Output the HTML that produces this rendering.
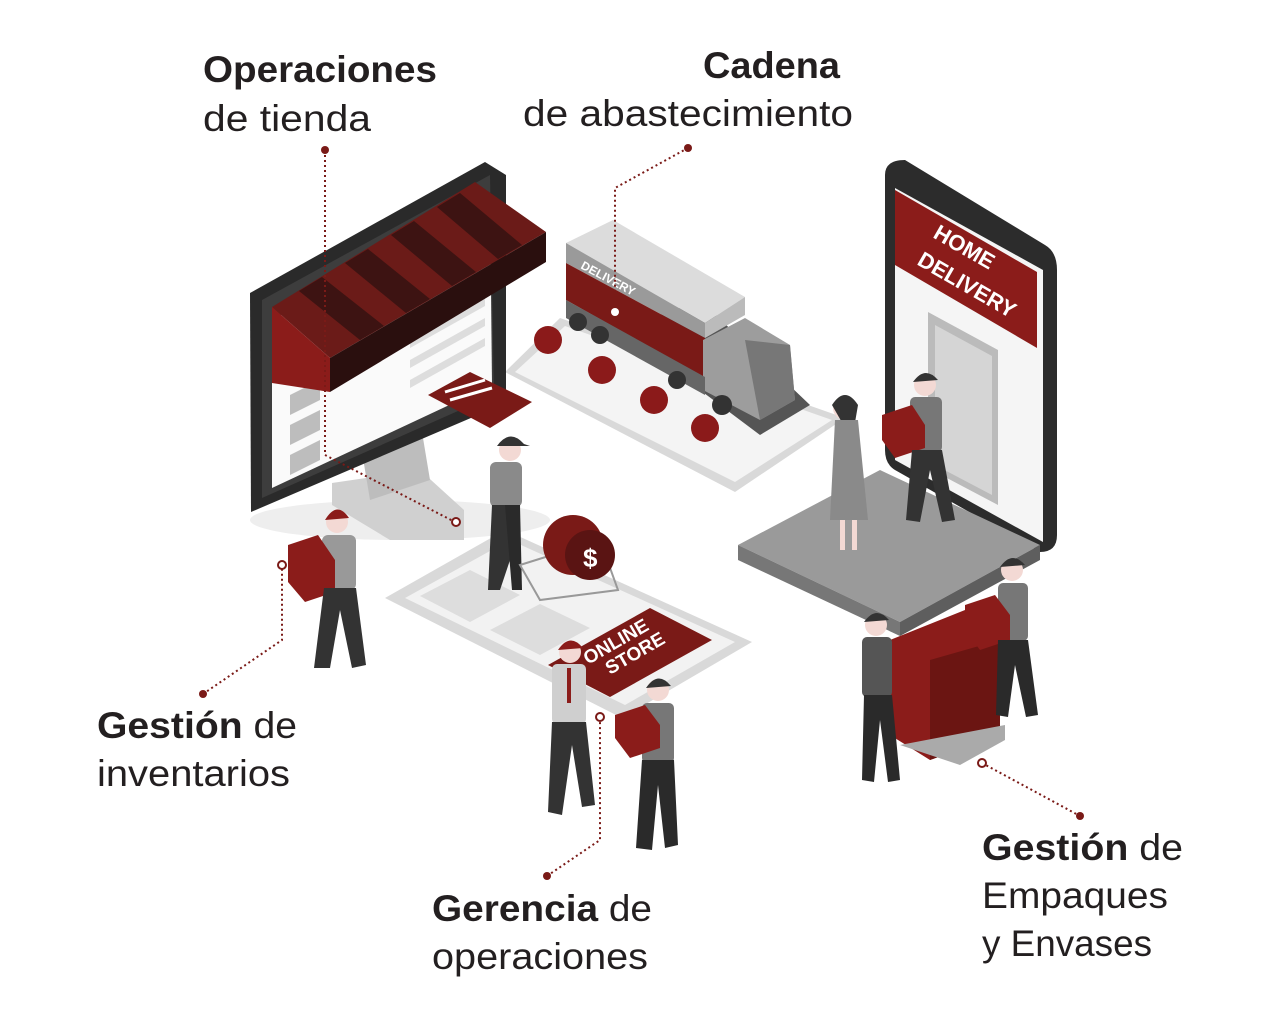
<!DOCTYPE html>
<html><head><meta charset="utf-8"><style>
html,body{margin:0;padding:0;background:#fff;}
svg{display:block;}
text{font-family:"Liberation Sans",sans-serif;fill:#231f20;}
</style></head><body>
<svg width="1280" height="1024" viewBox="0 0 1280 1024" xmlns="http://www.w3.org/2000/svg">
<ellipse cx="400" cy="520" rx="150" ry="20" fill="#eee"/>
<!-- Truck tablet -->
<polygon points="505,372 560,318 845,418 735,492" fill="#d9d9d9"/>
<polygon points="515,372 565,326 832,420 735,482" fill="#f4f4f4"/>
<polygon points="620,330 700,300 810,405 760,435" fill="#555"/>
<g fill="#8b1a1a"><circle cx="548" cy="340" r="14"/><circle cx="602" cy="370" r="14"/><circle cx="654" cy="400" r="14"/><circle cx="705" cy="428" r="14"/></g>
<!-- Truck -->
<polygon points="566,243 613,220 745,297 705,323" fill="#dcdcdc"/>
<polygon points="566,243 705,323 705,338 566,263" fill="#9a9a9a"/>
<polygon points="566,263 705,338 703,377 566,300" fill="#7a1a17"/>
<polygon points="705,323 745,297 745,315 705,338" fill="#bbb"/>
<polygon points="703,340 745,318 790,345 795,400 760,420 703,390" fill="#9d9d9d"/>
<polygon points="745,340 790,345 795,400 760,420" fill="#777"/>
<polygon points="566,300 705,377 705,395 566,318" fill="#666"/>
<g fill="#333"><circle cx="578" cy="322" r="9"/><circle cx="600" cy="335" r="9"/><circle cx="677" cy="380" r="9"/><circle cx="722" cy="405" r="10"/></g>
<text x="580" y="268" font-size="12" font-weight="bold" style="fill:#fff" transform="rotate(28 580 268)">DELIVERY</text>
<!-- Monitor -->
<polygon points="332,483 420,470 464,510 464,540 390,540 332,505" fill="#d0d0d0"/>
<polygon points="360,440 420,420 430,480 370,500" fill="#bdbdbd"/>
<polygon points="250,293 485,162 506,175 506,403 251,512" fill="#2a2a2a"/>
<polygon points="262,300 490,175 494,395 262,498" fill="#3d3d3d"/>
<polygon points="272,320 490,198 492,385 272,488" fill="#fafafa"/>
<g fill="#bdbdbd"><polygon points="290,395 320,380 320,400 290,415"/><polygon points="290,425 320,410 320,430 290,445"/><polygon points="290,455 320,440 320,460 290,475"/></g>
<g fill="#ddd"><polygon points="410,340 485,298 485,306 410,348"/><polygon points="410,360 485,318 485,326 410,368"/><polygon points="410,380 485,338 485,346 410,388"/></g>
<polygon points="428,395 470,372 532,402 490,428" fill="#7a1a17"/>
<g stroke="#fff" stroke-width="3"><line x1="445" y1="392" x2="485" y2="380"/><line x1="450" y1="400" x2="492" y2="388"/></g>
<!-- Awning -->
<polygon points="272,307 475,182 546,232 330,358" fill="#6b1b18"/>
<g fill="#3d1312">
<polygon points="299,291 322,277 384,326 360,340"/><polygon points="345,263 368,249 430,299 406,313"/><polygon points="391,235 414,221 476,272 452,286"/><polygon points="437,207 460,193 522,245 498,259"/>
</g>
<polygon points="330,358 546,232 546,262 330,392" fill="#2a0f0e"/>
<polygon points="272,307 330,358 330,392 272,383" fill="#8b1c1a"/>
<!-- Phone -->
<path d="M885,175 Q885,160 905,160 L1045,245 Q1057,252 1057,270 L1057,535 Q1057,552 1040,552 L895,470 Q885,464 885,450 Z" fill="#2c2c2c"/>
<polygon points="895,188 1043,270 1043,542 895,460" fill="#f5f5f5"/>
<polygon points="895,190 1037,272 1037,348 895,265" fill="#8b1c1a"/>
<text x="932" y="237" font-size="22" font-weight="bold" style="fill:#fff" transform="rotate(30 932 237)">HOME</text>
<text x="916" y="264" font-size="22" font-weight="bold" style="fill:#fff" transform="rotate(30 916 264)">DELIVERY</text>
<polygon points="928,312 998,350 998,505 928,468" fill="#bbb"/>
<polygon points="935,325 992,356 992,495 935,465" fill="#d5d5d5"/>
<!-- Platform -->
<polygon points="738,545 880,470 1040,545 900,622" fill="#9a9a9a"/>
<polygon points="738,545 900,622 900,636 738,560" fill="#777"/>
<polygon points="900,622 1040,545 1040,560 900,636" fill="#5e5e5e"/>
<!-- Bottom tablet -->
<polygon points="385,598 505,530 752,642 622,718" fill="#d9d9d9"/>
<polygon points="405,598 510,540 735,642 625,705" fill="#f2f2f2"/>
<g fill="#ddd"><polygon points="420,596 470,570 520,595 470,622"/><polygon points="490,630 540,604 590,628 540,655"/></g>
<polygon points="548,665 650,608 712,640 610,697" fill="#7a1a17"/>
<text x="588" y="665" font-size="19" font-weight="bold" style="fill:#fff" transform="rotate(-30 588 665)">ONLINE</text>
<text x="610" y="675" font-size="19" font-weight="bold" style="fill:#fff" transform="rotate(-30 610 675)">STORE</text>
<!-- Cart person -->
<g>
<circle cx="510" cy="450" r="11" fill="#f3d9d4"/><path d="M497,446 Q510,428 524,444 L530,446 Z" fill="#333"/>
<rect x="490" y="462" width="32" height="45" rx="6" fill="#8a8a8a"/>
<polygon points="492,505 520,505 510,560 500,590 488,590" fill="#333"/>
<polygon points="505,505 520,505 522,590 512,590" fill="#2a2a2a"/>
<path d="M520,565 L600,540 L618,590 L540,600 Z" fill="none" stroke="#999" stroke-width="2"/>
<circle cx="573" cy="545" r="30" fill="#7a1a17"/><circle cx="590" cy="555" r="25" fill="#5a1413"/>
<text x="583" y="567" font-size="26" font-weight="bold" style="fill:#fff">$</text>
</g>
<!-- Inventory person -->
<g>
<circle cx="337" cy="522" r="11" fill="#f3d9d4"/><path d="M325,520 Q337,500 349,518 Z" fill="#8b1c1a"/>
<rect x="322" y="535" width="34" height="55" rx="6" fill="#999"/>
<polygon points="288,545 318,535 335,560 335,592 305,602 288,582" fill="#8b1c1a"/>
<polygon points="324,588 356,588 366,665 352,668 340,610 330,668 314,668" fill="#333"/>
</g>
<!-- Woman & courier -->
<g>
<circle cx="845" cy="408" r="12" fill="#f3d9d4"/><path d="M832,405 Q845,385 858,405 L852,440 Z" fill="#333"/>
<polygon points="835,420 858,420 868,520 830,520" fill="#8a8a8a"/>
<rect x="840" y="520" width="5" height="30" fill="#f3d9d4"/><rect x="852" y="520" width="5" height="30" fill="#f3d9d4"/>
<circle cx="925" cy="385" r="11" fill="#f3d9d4"/><path d="M913,382 Q925,365 938,380 Z" fill="#333"/>
<rect x="910" y="397" width="32" height="55" rx="5" fill="#777"/>
<polygon points="882,415 912,405 925,425 925,448 895,458 882,440" fill="#8b1c1a"/>
<polygon points="912,450 942,450 955,520 942,522 930,470 920,522 906,520" fill="#333"/>
</g>
<!-- Packaging people -->
<g>
<polygon points="890,640 965,610 1000,640 1000,735 930,760 890,735" fill="#8b1c1a"/>
<polygon points="930,660 1000,640 1000,735 930,760" fill="#6b1512"/>
<polygon points="900,745 960,765 1005,740 1005,725" fill="#aaa"/>
<circle cx="876" cy="625" r="11" fill="#f3d9d4"/><path d="M864,622 Q876,605 889,620 Z" fill="#333"/>
<rect x="862" y="637" width="30" height="60" rx="5" fill="#555"/>
<polygon points="864,695 892,695 900,780 888,782 880,720 874,782 862,780" fill="#2a2a2a"/>
<circle cx="1012" cy="570" r="11" fill="#f3d9d4"/><path d="M1000,567 Q1012,550 1025,565 Z" fill="#333"/>
<rect x="998" y="583" width="30" height="58" rx="5" fill="#777"/>
<polygon points="965,605 995,595 1010,615 1010,640 980,650 965,630" fill="#8b1c1a"/>
<polygon points="998,640 1028,640 1038,715 1026,717 1015,665 1008,717 996,715" fill="#2a2a2a"/>
</g>
<!-- Manager people -->
<g>
<circle cx="570" cy="652" r="11" fill="#f3d9d4"/><path d="M558,650 Q570,632 583,648 Z" fill="#8b1c1a"/>
<rect x="552" y="664" width="34" height="60" rx="5" fill="#cfcfcf"/>
<rect x="567" y="668" width="4" height="35" fill="#8b1c1a"/>
<polygon points="552,722 586,722 595,805 582,807 572,745 562,815 548,812" fill="#333"/>
<circle cx="658" cy="690" r="11" fill="#f3d9d4"/><path d="M646,688 Q658,670 671,686 Z" fill="#333"/>
<rect x="642" y="703" width="32" height="60" rx="5" fill="#777"/>
<polygon points="615,715 645,705 660,725 660,748 630,758 615,738" fill="#8b1c1a"/>
<polygon points="642,760 674,760 678,845 665,848 658,785 652,850 636,848" fill="#2a2a2a"/>
</g>
<!-- connectors -->
<g fill="none" stroke="#7a1a17" stroke-width="2" stroke-dasharray="2,3">
<polyline points="325,150 325,455 455,522"/>
<polyline points="688,148 615,188 615,312"/>
<polyline points="203,694 282,640 282,565"/>
<polyline points="547,876 600,840 600,717"/>
<polyline points="982,763 1080,816"/>
</g>
<g fill="#7a1a17"><circle cx="325" cy="150" r="4"/><circle cx="688" cy="148" r="4"/><circle cx="203" cy="694" r="4"/><circle cx="547" cy="876" r="4"/><circle cx="1080" cy="816" r="4"/></g>
<g fill="#fff" stroke="#7a1a17" stroke-width="2"><circle cx="456" cy="522" r="4"/><circle cx="282" cy="565" r="4"/><circle cx="600" cy="717" r="4"/><circle cx="982" cy="763" r="4"/></g>
<circle cx="615" cy="312" r="4" fill="#fff"/>
<!-- labels -->
<g font-size="37">
<text x="203" y="82" font-weight="bold" textLength="234" lengthAdjust="spacingAndGlyphs">Operaciones</text>
<text x="203" y="131" textLength="168" lengthAdjust="spacingAndGlyphs">de tienda</text>
<text x="703" y="78" font-weight="bold" textLength="137" lengthAdjust="spacingAndGlyphs">Cadena</text>
<text x="523" y="126" textLength="330" lengthAdjust="spacingAndGlyphs">de abastecimiento</text>
<text x="97" y="738" textLength="200" lengthAdjust="spacingAndGlyphs"><tspan font-weight="bold">Gestión</tspan> de</text>
<text x="97" y="786" textLength="193" lengthAdjust="spacingAndGlyphs">inventarios</text>
<text x="432" y="921" textLength="220" lengthAdjust="spacingAndGlyphs"><tspan font-weight="bold">Gerencia</tspan> de</text>
<text x="432" y="969" textLength="216" lengthAdjust="spacingAndGlyphs">operaciones</text>
<text x="982" y="860" textLength="201" lengthAdjust="spacingAndGlyphs"><tspan font-weight="bold">Gestión</tspan> de</text>
<text x="982" y="908" textLength="186" lengthAdjust="spacingAndGlyphs">Empaques</text>
<text x="982" y="956" textLength="170" lengthAdjust="spacingAndGlyphs">y Envases</text>
</g>
</svg>
</body></html>
